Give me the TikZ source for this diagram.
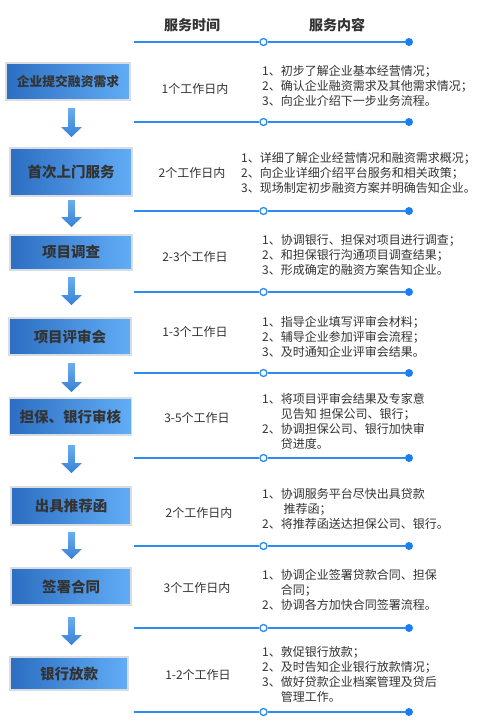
\documentclass[tikz,border=0pt]{standalone}
\usepackage{fontspec}
\setmainfont{Noto Sans CJK SC}
\usetikzlibrary{calc}
\definecolor{txt}{HTML}{333333}
\definecolor{boxl}{HTML}{2C6EC2}
\definecolor{boxr}{HTML}{62ADF6}
\definecolor{boxborder}{HTML}{D9DCE0}
\definecolor{lineblue}{HTML}{2F8BF0}
\definecolor{dotblue}{HTML}{1C7FF0}
\definecolor{arrtop}{HTML}{6AAEF0}
\definecolor{arrbot}{HTML}{3A80D4}
\tikzset{
  stepbox/.style={draw=boxborder, line width=1.6pt, left color=boxl, right color=boxr,
    minimum width=122pt, inner sep=0pt, text=txt, font=\fontsize{14.5}{17}\selectfont\bfseries},
  headtxt/.style={text=txt, font=\fontsize{14}{17}\selectfont\bfseries, inner sep=0pt},
  timetxt/.style={text=txt, font=\fontsize{12}{15}\selectfont, inner sep=0pt},
  contenttxt/.style={text=txt, font=\fontsize{12}{15}\selectfont, align=left, anchor=west, inner sep=0pt},
  opendot/.style={circle, draw=lineblue, fill=white, line width=1.3pt, minimum size=7pt, inner sep=0pt},
  fulldot/.style={circle, fill=dotblue, minimum size=8pt, inner sep=0pt},
  rowline/.style={draw=lineblue, line width=1.5pt}
}
\newcommand{\flowarrow}[2]{%
  \shade[top color=arrtop, bottom color=arrbot]
    ($(#1)+(-3.3,0)$) -- ($(#2)+(-3.3,-10)$) -- ($(#2)+(-10.5,-10)$) -- (#2)
    -- ($(#2)+(10.5,-10)$) -- ($(#2)+(3.3,-10)$) -- ($(#1)+(3.3,0)$) -- cycle;}
\newcommand{\rowrule}[2]{%
  \coordinate (#1a) at (134,#2);
  \node[opendot] (#1o) at (263.5,#2) {};
  \node[fulldot] (#1e) at (409,#2) {};
  \draw[rowline] (#1a) -- (#1o);
  \draw[rowline] (#1o) -- (#1e);}
\begin{document}
\begin{tikzpicture}[x=1pt, y=-1pt]
\path[use as bounding box, fill=white] (0,0) rectangle (479,723);
% header
\node[headtxt] (h1) at (192,25) {服务时间};
\node[headtxt] (h2) at (337,25) {服务内容};
\rowrule{l0}{42}
% boxes
\node[stepbox, minimum width=124pt, minimum height=37pt, font=\fontsize{12.8}{15}\selectfont\bfseries] (b1) at (68,81.5) {企业提交融资需求};
\node[stepbox, minimum height=48pt] (b2) at (71,172) {首次上门服务};
\node[stepbox, minimum height=35pt] (b3) at (71,252.5) {项目调查};
\node[stepbox, minimum height=37pt] (b4) at (70,336.5) {项目评审会};
\node[stepbox, minimum height=37pt] (b5) at (70.5,416.5) {担保、银行审核};
\node[stepbox, minimum width=120pt, minimum height=38pt] (b6) at (71,506) {出具推荐函};
\node[stepbox, minimum width=120pt, minimum height=37pt] (b7) at (71,586.5) {签署合同};
\node[stepbox, minimum width=118pt, minimum height=33pt] (b8) at (69,673.5) {银行放款};
% arrows
\coordinate (a1s) at (71.5,108); \coordinate (a1e) at (71.5,137);
\coordinate (a2s) at (71.5,200); \coordinate (a2e) at (71.5,227);
\coordinate (a3s) at (71.5,277); \coordinate (a3e) at (71.5,305);
\coordinate (a4s) at (71.5,363); \coordinate (a4e) at (71.5,392);
\coordinate (a5s) at (71.5,445); \coordinate (a5e) at (71.5,473);
\coordinate (a6s) at (71.5,532); \coordinate (a6e) at (71.5,559);
\coordinate (a7s) at (71.5,617); \coordinate (a7e) at (71.5,645);
\flowarrow{a1s}{a1e}
\flowarrow{a2s}{a2e}
\flowarrow{a3s}{a3e}
\flowarrow{a4s}{a4e}
\flowarrow{a5s}{a5e}
\flowarrow{a6s}{a6e}
\flowarrow{a7s}{a7e}
% times
\node[timetxt] (t1) at (195,89) {1个工作日内};
\node[timetxt] (t2) at (192,173) {2个工作日内};
\node[timetxt] (t3) at (195,257) {2-3个工作日};
\node[timetxt] (t4) at (195,332) {1-3个工作日};
\node[timetxt] (t5) at (197,418) {3-5个工作日};
\node[timetxt] (t6) at (199,513) {2个工作日内};
\node[timetxt] (t7) at (197,588) {3个工作日内};
\node[timetxt] (t8) at (198,675) {1-2个工作日};
% contents
\node[contenttxt] (c1) at (262,86) {1、初步了解企业基本经营情况；\\2、确认企业融资需求及其他需求情况；\\3、向企业介绍下一步业务流程。};
\node[contenttxt] (c2) at (241,172.5) {1、详细了解企业经营情况和融资需求概况；\\2、向企业详细介绍平台服务和相关政策；\\3、现场制定初步融资方案并明确告知企业。};
\node[contenttxt] (c3) at (262,255) {1、协调银行、担保对项目进行调查；\\2、和担保银行沟通项目调查结果；\\3、形成确定的融资方案告知企业。};
\node[contenttxt] (c4) at (262,336.5) {1、指导企业填写评审会材料；\\2、辅导企业参加评审会流程；\\3、及时通知企业评审会结果。};
\node[contenttxt] (c5) at (262,421.5) {1、将项目评审会结果及专家意\\\phantom{1、}见告知 担保公司、银行；\\2、协调担保公司、银行加快审\\\phantom{2、}贷进度。};
\node[contenttxt] (c6) at (262,508.5) {1、协调服务平台尽快出具贷款\\\phantom{1、} 推荐函；\\2、将推荐函送达担保公司、银行。};
\node[contenttxt] (c7) at (262,590) {1、协调企业签署贷款合同、担保\\\phantom{1、}合同；\\2、协调各方加快合同签署流程。};
\node[contenttxt] (c8) at (262,674.5) {1、敦促银行放款；\\2、及时告知企业银行放款情况；\\3、做好贷款企业档案管理及贷后\\\phantom{3、}管理工作。};
% row rules
\rowrule{l1}{122}
\rowrule{l2}{211}
\rowrule{l3}{292}
\rowrule{l4}{373}
\rowrule{l5}{458}
\rowrule{l6}{546}
\rowrule{l7}{628}
\rowrule{l8}{712}
\end{tikzpicture}
\end{document}
